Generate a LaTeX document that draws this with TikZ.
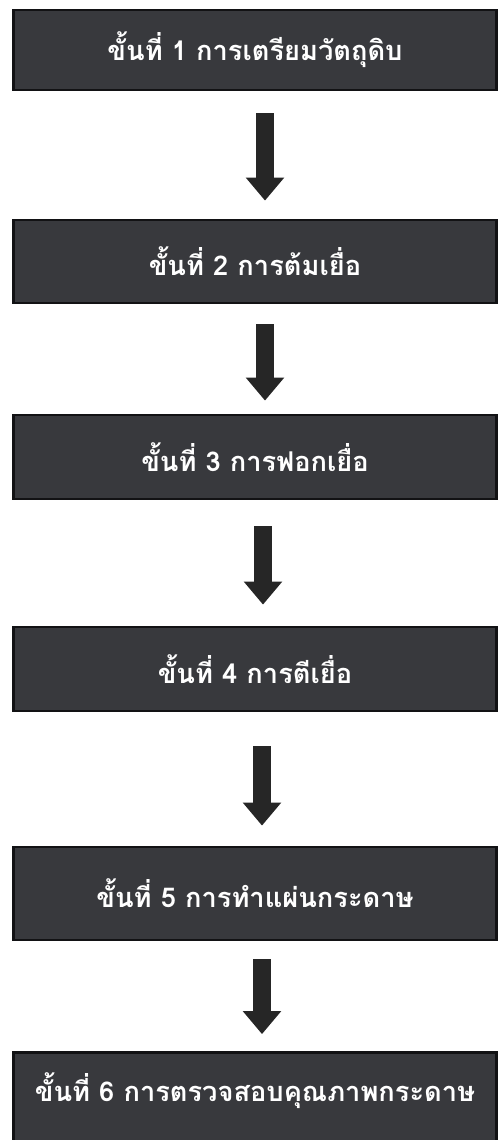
\documentclass[tikz,border=0pt]{standalone}
\usepackage{fontspec}
\newfontfamily\thaifont[Script=Thai]{Loma}
\usetikzlibrary{arrows.meta}

\definecolor{boxgray}{RGB}{56,57,61}
\definecolor{boxline}{RGB}{18,18,20}

\begin{document}
\begin{tikzpicture}[x=0.02cm, y=-0.02cm,
    stepbox/.style={draw=boxline, fill=boxgray, line width=1.6pt, rectangle, align=center,
        minimum width=9.66cm, text=white, font=\thaifont\bfseries\fontsize{15.5}{18}\selectfont},
    downarrow/.style={line width=0.36cm, draw=black!85, -{Triangle[width=0.74cm, length=0.46cm, fill=black!85]}}]

    \clip (0,0) rectangle (499,1140);

    % Draw nodes and arrows
    \node[stepbox, minimum height=1.6cm] (prepare) at (255,50) {ขั้นที่ 1 การเตรียมวัตถุดิบ};
    \node[stepbox, minimum height=1.66cm] (boil) at (255,261.5) {ขั้นที่ 2 การต้มเยื่อ};
    \node[stepbox, minimum height=1.68cm] (bleach) at (255,457) {ขั้นที่ 3 การฟอกเยื่อ};
    \node[stepbox, minimum height=1.68cm] (beat) at (255,669) {ขั้นที่ 4 การตีเยื่อ};
    \node[stepbox, minimum height=1.86cm] (sheet) at (255,893.5) {ขั้นที่ 5 การทำแผ่นกระดาษ};
    \node[stepbox, minimum height=1.9cm, text depth=0.5cm] (inspect) at (255,1100) {ขั้นที่ 6 การตรวจสอบคุณภาพกระดาษ};

    \draw[downarrow, shorten <=0.44cm, shorten >=0.36cm] ([xshift=0.2cm]prepare.south) -- ([xshift=0.2cm]boil.north);
    \draw[downarrow, shorten <=0.40cm, shorten >=0.26cm] ([xshift=0.2cm]boil.south) -- ([xshift=0.2cm]bleach.north);
    \draw[downarrow, shorten <=0.52cm, shorten >=0.42cm] ([xshift=0.16cm]bleach.south) -- ([xshift=0.16cm]beat.north);
    \draw[downarrow, shorten <=0.68cm, shorten >=0.40cm] ([xshift=0.14cm]beat.south) -- ([xshift=0.14cm]sheet.north);
    \draw[downarrow, shorten <=0.36cm, shorten >=0.34cm] ([xshift=0.14cm]sheet.south) -- ([xshift=0.14cm]inspect.north);

\end{tikzpicture}
\end{document}
